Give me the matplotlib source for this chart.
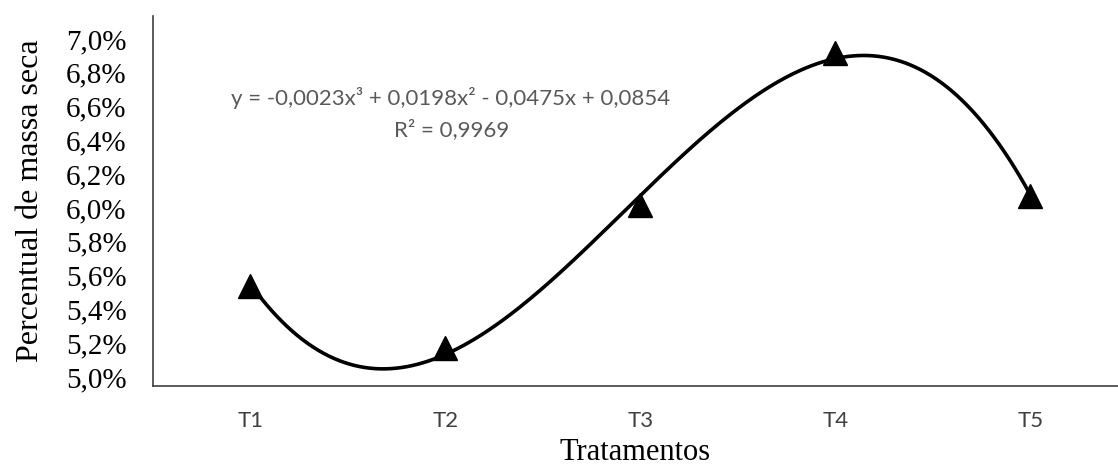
import numpy as np
import matplotlib
matplotlib.use("Agg")
import matplotlib.pyplot as plt
from matplotlib.ticker import FuncFormatter

# data
tratamentos = ["T1", "T2", "T3", "T4", "T5"]
massa_seca = [0.0554, 0.0517, 0.0602, 0.0692, 0.0607]
y_ticks = [0.050, 0.052, 0.054, 0.056, 0.058, 0.060, 0.062, 0.064, 0.066, 0.068, 0.070]
eq_text = "y = -0,0023x³ + 0,0198x² - 0,0475x + 0,0854"
r2_text = "R² = 0,9969"

x = np.arange(1, len(tratamentos) + 1)

# cubic trend line (like excel)
coef = np.polyfit(x, massa_seca, 3)
xs = np.linspace(1, len(tratamentos), 300)
ys = np.polyval(coef, xs)

fig = plt.figure(figsize=(11.18, 4.68), dpi=100)
ax = fig.add_axes([153/1118, 82/468, 1 - 153/1118, 370/468])

ax.plot(xs, ys, color="black", lw=2.6, zorder=2)
ax.plot(x, massa_seca, ls="none", marker="^", ms=17, color="black", zorder=3)

ax.set_xlim(0.5, 5.45)
ax.set_ylim(0.04947, 0.07136)

ax.set_xticks(x)
ax.set_xticklabels(tratamentos, family="Lato", fontsize=16, color="#404040")
ax.set_yticks(y_ticks)
ax.yaxis.set_major_formatter(FuncFormatter(lambda v, p: ("%.1f%%" % (v*100)).replace(".", ",")))
for lab in ax.get_yticklabels():
    lab.set_family("Liberation Serif")
    lab.set_fontsize(21)

ax.tick_params(axis="both", length=0)
ax.tick_params(axis="x", pad=18)
ax.tick_params(axis="y", pad=19)

for s in ["top", "right"]:
    ax.spines[s].set_visible(False)
for s in ["left", "bottom"]:
    ax.spines[s].set_color("#404040")
    ax.spines[s].set_linewidth(1.2)

ax.set_xlabel("Tratamentos", family="Liberation Serif", fontsize=22, labelpad=5)
ax.set_ylabel("Percentual de massa seca", family="Liberation Serif", fontsize=23, labelpad=15)

fig.text(451/1118, 1 - 98/468, eq_text, family="Lato", fontsize=16, color="#595959",
         ha="center", va="center")
fig.text(452/1118, 1 - 130/468, r2_text, family="Lato", fontsize=16, color="#595959",
         ha="center", va="center")

fig.savefig("out.png", dpi=100)
